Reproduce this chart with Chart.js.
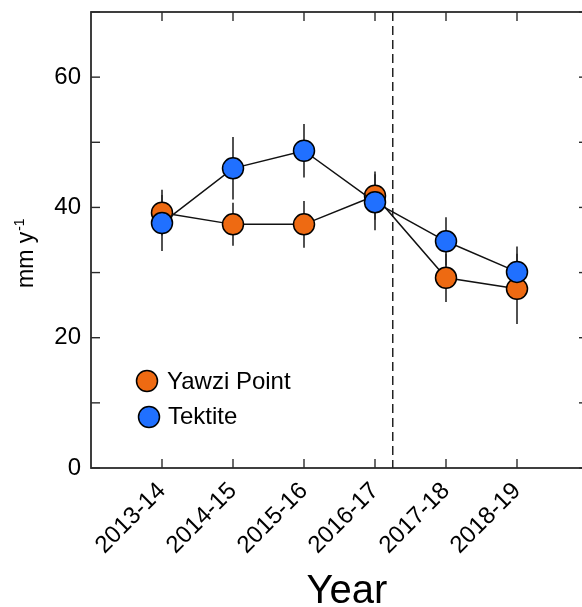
<!DOCTYPE html>
<html><head><meta charset="utf-8">
<script src="https://cdn.jsdelivr.net/npm/chart.js@4/dist/chart.umd.min.js"></script>
<style>
html,body{margin:0;padding:0;overflow:hidden;background:#fff;width:582px;height:607px}
#wrap{width:600px;height:607px;position:relative}
canvas{display:block}
</style>
</head><body><div id="wrap"><canvas id="c" width="600" height="607"></canvas></div>
<script>
const categories = ['2013-14','2014-15','2015-16','2016-17','2017-18','2018-19'];
const yawziValues = [39.2, 37.4, 37.4, 41.8, 29.2, 27.5];
const yawziErrors = [3.5, 3.3, 3.6, 3.7, 3.7, 5.4];
const tektiteValues = [37.6, 46.0, 48.7, 40.8, 34.8, 30.1];
const tektiteErrors = [4.3, 4.8, 4.1, 4.3, 3.7, 3.9];
const yTickLabels = [0, 20, 40, 60];
const breakPosition = 3.25;
const seriesNames = ['Yawzi Point', 'Tektite'];
const seriesColors = ['#EE6A12', '#2070FF'];

const FONT = '"Liberation Sans", Arial, Helvetica, sans-serif';

function toPoints(vals){ return vals.map((v,i)=>({x:i, y:v})); }

const decor = {
  id: 'decor',
  beforeDatasetsDraw(chart) {
    const {ctx, chartArea: a, scales: {x, y}} = chart;
    const line = (x1,y1,x2,y2)=>{ ctx.beginPath(); ctx.moveTo(x1,y1); ctx.lineTo(x2,y2); ctx.stroke(); };
    ctx.save();
    ctx.strokeStyle = '#2b2b2b';
    ctx.lineWidth = 1.8;
    ctx.strokeRect(a.left, a.top, a.right - a.left, a.bottom - a.top);
    ctx.lineWidth = 1.4;
    for (let v = 0; v <= 70; v += 10) {
      const py = y.getPixelForValue(v);
      line(a.left, py, a.left + 9, py);
      line(a.right - 9, py, a.right, py);
    }
    categories.forEach((c, i) => {
      const px = x.getPixelForValue(i);
      line(px, a.bottom, px, a.bottom - 9);
      line(px, a.top, px, a.top + 9);
    });
    // dashed separator
    ctx.strokeStyle = '#222';
    ctx.lineWidth = 1.5;
    ctx.setLineDash([9, 5]);
    const xb = x.getPixelForValue(breakPosition);
    line(xb, a.top, xb, a.bottom);
    ctx.setLineDash([]);
    // error bars
    ctx.strokeStyle = '#262626';
    ctx.lineWidth = 1.6;
    const bars = (vals, errs) => vals.forEach((v, i) => {
      const px = x.getPixelForValue(i);
      line(px, y.getPixelForValue(v - errs[i]), px, y.getPixelForValue(v + errs[i]));
    });
    bars(yawziValues, yawziErrors);
    bars(tektiteValues, tektiteErrors);
    ctx.restore();
  },
  afterDraw(chart) {
    const {ctx} = chart;
    ctx.save();
    ctx.fillStyle = '#000';
    // legend
    const leg = [[147, 381, 167, 389], [149, 417, 168, 424]];
    leg.forEach((L, k) => {
      ctx.beginPath();
      ctx.arc(L[0], L[1], 10.5, 0, Math.PI * 2);
      ctx.fillStyle = seriesColors[k];
      ctx.fill();
      ctx.lineWidth = 1.5;
      ctx.strokeStyle = '#000';
      ctx.stroke();
      ctx.fillStyle = '#000';
      ctx.font = '24px ' + FONT;
      ctx.textAlign = 'left';
      ctx.textBaseline = 'alphabetic';
      ctx.fillText(seriesNames[k], L[2], L[3]);
    });
    // x title
    ctx.font = '40px ' + FONT;
    ctx.textAlign = 'center';
    ctx.textBaseline = 'alphabetic';
    ctx.fillText('Year', 347, 603);
    // y title
    ctx.translate(33, 288);
    ctx.rotate(-Math.PI / 2);
    ctx.font = '23px ' + FONT;
    ctx.textAlign = 'left';
    ctx.fillText('mm y', 0, 0);
    const w = ctx.measureText('mm y').width;
    ctx.font = '14px ' + FONT;
    ctx.fillText('-1', w + 1, -9);
    ctx.restore();
  }
};

const chart = new Chart(document.getElementById('c'), {
  type: 'line',
  data: {
    datasets: [
      {
        label: seriesNames[0],
        data: toPoints(yawziValues),
        order: 1,
        borderColor: '#111',
        borderWidth: 1.5,
        pointRadius: 10.5,
        pointHoverRadius: 10.5,
        pointBackgroundColor: seriesColors[0],
        pointBorderColor: '#000',
        pointBorderWidth: 1.5,
        tension: 0,
        fill: false
      },
      {
        label: seriesNames[1],
        data: toPoints(tektiteValues),
        order: 0,
        borderColor: '#111',
        borderWidth: 1.5,
        pointRadius: 10.5,
        pointHoverRadius: 10.5,
        pointBackgroundColor: seriesColors[1],
        pointBorderColor: '#000',
        pointBorderWidth: 1.5,
        tension: 0,
        fill: false
      }
    ]
  },
  options: {
    responsive: false,
    animation: false,
    devicePixelRatio: 1,
    layout: { padding: { top: 10, right: 11, left: 0, bottom: 0 } },
    plugins: { legend: { display: false }, tooltip: { enabled: false } },
    scales: {
      x: {
        type: 'linear',
        min: -1,
        max: 6,
        grid: { display: false, drawTicks: false },
        border: { display: false },
        afterFit(s) { s.height = 139; s.paddingLeft = 0; s.paddingRight = 0; },
        afterBuildTicks(s) { s.ticks = categories.map((c, i) => ({ value: i })); },
        ticks: {
          autoSkip: false,
          maxRotation: 45,
          minRotation: 45,
          padding: 9,
          color: '#000',
          font: { size: 24, family: FONT },
          callback: (v) => categories[v] !== undefined ? categories[v] : ''
        }
      },
      y: {
        min: 0,
        max: 70,
        grid: { display: false, drawTicks: false },
        border: { display: false },
        afterFit(s) { s.width = 91; s.paddingTop = 0; s.paddingBottom = 0; },
        afterBuildTicks(s) { s.ticks = yTickLabels.map(v => ({ value: v })); },
        ticks: {
          padding: 10,
          color: '#000',
          font: { size: 24, family: FONT },
          callback: (v) => String(v)
        }
      }
    }
  },
  plugins: [decor]
});
</script>
</body></html>
